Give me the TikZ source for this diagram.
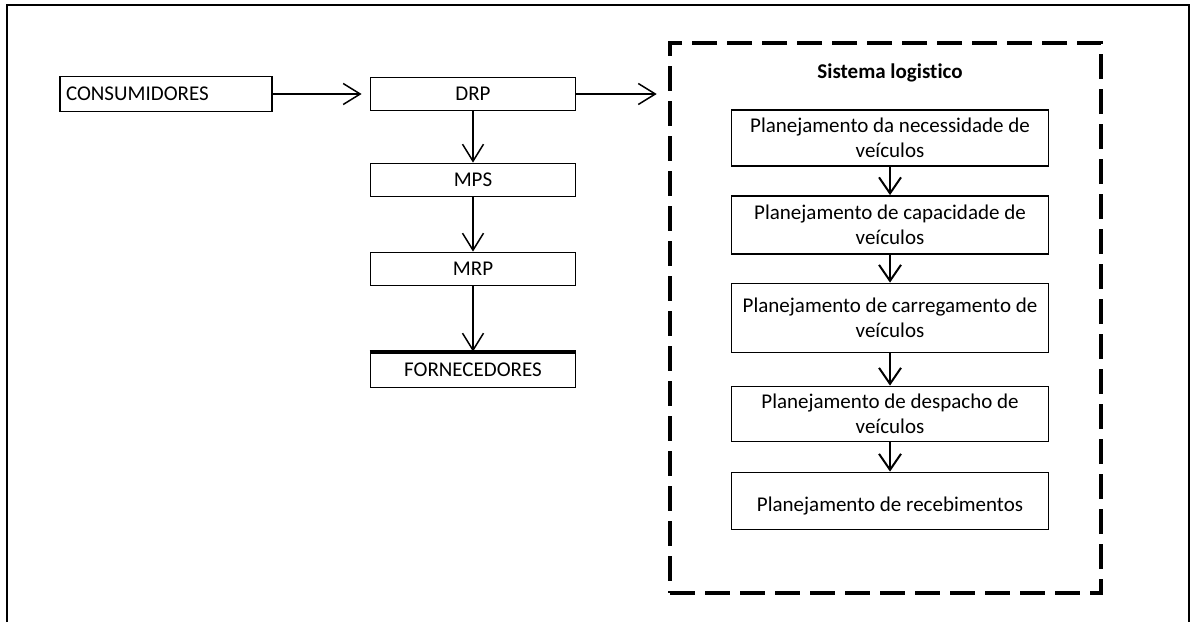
\documentclass[tikz,border=0pt]{standalone}
\usepackage{fontspec}
\setmainfont[Ligatures=NoCommon]{Carlito}
\usetikzlibrary{arrows.meta}

\begin{document}
\begin{tikzpicture}[x=0.5pt,y=-0.5pt,
        box/.style={draw, line width=0.9pt, inner sep=0pt, align=center,
            font=\fontsize{10.5}{12.5}\selectfont},
        leftbox/.style={box, minimum width=102.5pt, minimum height=16.5pt},
        planbox/.style={box, minimum width=158.5pt},
        flow/.style={-{Straight Barb[length=8.5pt,width=10.5pt]}, line width=0.75pt},
        planflow/.style={-{Straight Barb[length=8pt,width=11pt]}, line width=1pt},
        dashbox/.style={draw, line width=2.3pt, dash pattern=on 12.5pt off 5pt, inner sep=0pt}]
    \useasboundingbox (0,0) rectangle (1192,622);
    \draw[line width=0.8pt] (7,622) -- (7,5) -- (1189,5) -- (1189,622);

    \node[box, minimum width=106pt, minimum height=17.5pt, text width=100pt, align=left] (cons) at (166,94) {CONSUMIDORES};
    \node[leftbox] (drp) at (473,94) {DRP};
    \node[leftbox] (mps) at (473,180) {MPS};
    \node[leftbox] (mrp) at (473,269) {MRP};
    \node[leftbox, minimum height=17.5pt] (forn) at (473,370) {FORNECEDORES};
    \draw[line width=2pt] (forn.north west) -- (forn.north east);

    \node[dashbox, minimum width=215.5pt, minimum height=275pt] (sis) at (885.5,318) {};
    \node[font=\fontsize{10.5}{12.5}\selectfont\bfseries] (title) at (890,73) {Sistema logistico};
    \node[planbox, minimum height=28pt] (necess) at (890,138) {Planejamento da necessidade de\\veículos};
    \node[planbox, minimum height=29pt] (capac) at (890,225) {Planejamento de capacidade de\\veículos};
    \node[planbox, minimum height=34.5pt] (carreg) at (890,318) {Planejamento de carregamento de\\veículos};
    \node[planbox, minimum height=27.5pt] (desp) at (890,414) {Planejamento de despacho de\\veículos};
    \node[planbox, minimum height=28.5pt] (receb) at (890,501) {\mbox{}\\Planejamento de recebimentos};

    \draw[flow, shorten >=4pt] (cons) -- (drp);
    \draw[flow, shorten >=5.5pt] (drp.east) -- (drp.east -| sis.west);
    \draw[flow] (drp) -- (mps);
    \draw[flow] (mps) -- (mrp);
    \draw[flow] (mrp) -- (forn);

    \draw[planflow] (necess) -- (capac);
    \draw[planflow] (capac) -- (carreg);
    \draw[planflow] (carreg) -- (desp);
    \draw[planflow] (desp) -- (receb);
\end{tikzpicture}
\end{document}
